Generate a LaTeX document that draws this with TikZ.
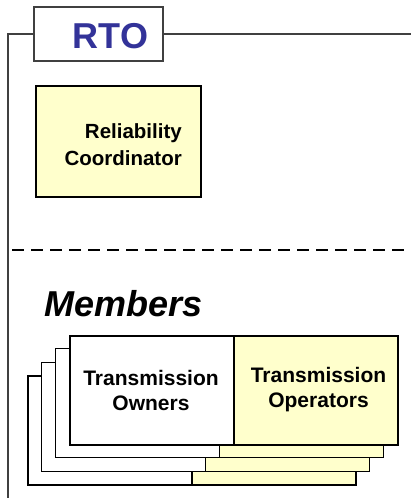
\documentclass[tikz,border=0pt]{standalone}
\usepackage{fontspec}
\setmainfont{Liberation Sans}
\definecolor{paleyellow}{HTML}{FFFFCC}
\definecolor{rtoblue}{HTML}{333399}
\definecolor{framegray}{HTML}{404040}
\begin{document}
\begin{tikzpicture}[x=1pt,y=-1pt,
  framebox/.style={draw=framegray,line width=1.2pt},
  ybox/.style={draw=black,line width=1.6pt,fill=paleyellow},
  wbox/.style={draw=black,line width=1.6pt,fill=white},
  lbl/.style={font=\bfseries\fontsize{21}{25}\selectfont,align=center,inner sep=0pt}]
\useasboundingbox (0,0) rectangle (411,498);
% frame
\coordinate (fl) at (8,498);
\coordinate (fr) at (411,34);
\node[framebox,fill=white,minimum width=129pt,minimum height=54pt,inner sep=0pt] (rto) at (98.5,34) {};
\node[text=rtoblue,font=\bfseries\fontsize{36}{40}\selectfont,inner sep=0pt] (rtot) at (110.5,36) {RTO};
\draw[framegray,line width=1.2pt] (fl) |- (rto.west);
\draw[framegray,line width=1.2pt] (rto.east) -- (fr);
% reliability coordinator
\node[ybox,minimum width=165pt,minimum height=111pt,inner sep=0pt] (rc) at (118.5,141.5) {};
\node[lbl,align=right,anchor=east,font=\bfseries\fontsize{20.5}{27}\selectfont] (rct) at (182,145) {Reliability\\Coordinator};
% dashed line
\coordinate (dl) at (12,250);
\coordinate (dr) at (411,250);
\draw[line width=2.6pt,dash pattern=on 12pt off 7pt] (dl) -- (dr);
% members
\node[font=\bfseries\itshape\fontsize{36}{40}\selectfont,anchor=west,inner sep=0pt] (mem) at (44,304) {Members};
% stacked boxes (back to front)
\foreach \i/\dx/\dy in {4/-41/41,3/-27.5/27.5,2/-13.5/13.5}{
  \draw[wbox] (69+\dx,335+\dy) rectangle (233+\dx,444+\dy);
  \draw[ybox] (233+\dx,335+\dy) rectangle (397+\dx,444+\dy);
}
\node[wbox,minimum width=164pt,minimum height=109pt,inner sep=0pt,anchor=north west] (to) at (69,335) {};
\node[ybox,minimum width=164pt,minimum height=109pt,inner sep=0pt,anchor=north west] (top) at (233,335) {};
\node[lbl] (tot) at (151,390) {Transmission\\Owners};
\node[lbl] (topt) at (318.5,390) {Transmission\\Operators};
\end{tikzpicture}
\end{document}
